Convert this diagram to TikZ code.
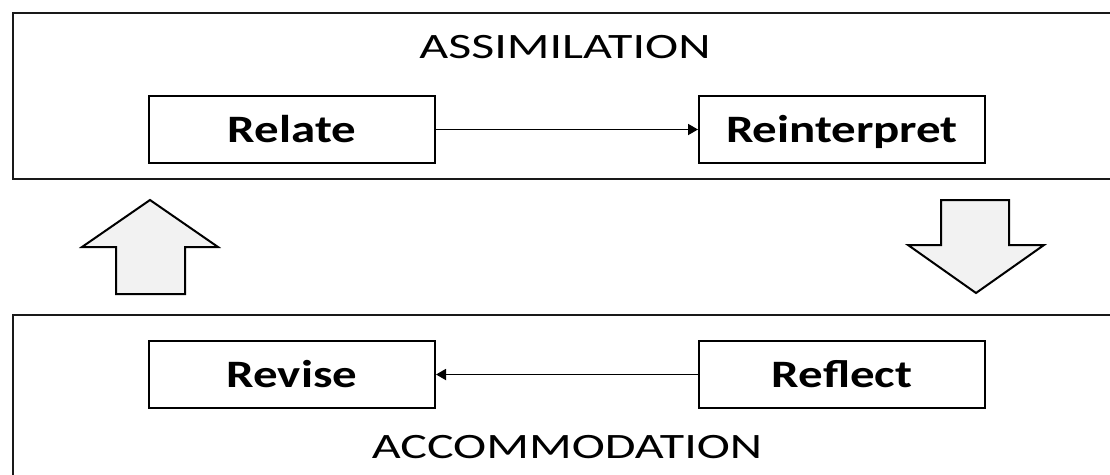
\documentclass[tikz,border=0pt]{standalone}
\usepackage{fontspec}
\setmainfont{Carlito}
\newfontfamily\titlefont[FakeStretch=1.4]{Carlito}
\newfontfamily\labelfont[FakeStretch=1.26]{Carlito}
\usetikzlibrary{arrows.meta}
\begin{document}
\begin{tikzpicture}[x=1pt,y=-1pt,
  frame/.style={draw=black!90,line width=2.2pt},
  stagebox/.style={draw=black,line width=2pt,minimum width=286pt,minimum height=67pt,
    inner sep=0pt,text height=25pt,text depth=0pt,
    font=\labelfont\bfseries\fontsize{38.8}{40}\selectfont},
  title/.style={inner sep=0pt,anchor=base,font=\titlefont\fontsize{35.7}{38}\selectfont},
  link/.style={draw=black,line width=1.8pt,-{Triangle[length=10pt,width=11pt]}},
  blockarrow/.style={draw=black,fill=black!5,line width=2pt,line join=miter}]
\useasboundingbox (0,0) rectangle (1110,474);
\begin{scope}
  \clip (0,0) rectangle (1110,474);
  \draw[frame] (13,13) rectangle (1125,179);
  \draw[frame] (13,315) rectangle (1125,490);
\end{scope}
\node[title] (assim) at (565,58.5) {ASSIMILATION};
\node[title] (accom) at (567,458) {ACCOMMODATION};
\node[stagebox] (relate) at (292,129.5) {Relate};
\node[stagebox] (reinterpret) at (842,129.5) {Reinterpret};
\node[stagebox] (revise) at (292,374.5) {Revise};
\node[stagebox] (reflect) at (842,374.5) {Reflect};
\draw[link] (relate) -- (reinterpret);
\draw[link] (reflect) -- (revise);
\draw[blockarrow] (150,200) -- (218,247) -- (185,247) -- (185,294) -- (116,294) -- (116,247) -- (82,247) -- cycle;
\draw[blockarrow] (941,200) -- (1009,200) -- (1009,245) -- (1044,245) -- (976,293) -- (908,245) -- (941,245) -- cycle;
\end{tikzpicture}
\end{document}
